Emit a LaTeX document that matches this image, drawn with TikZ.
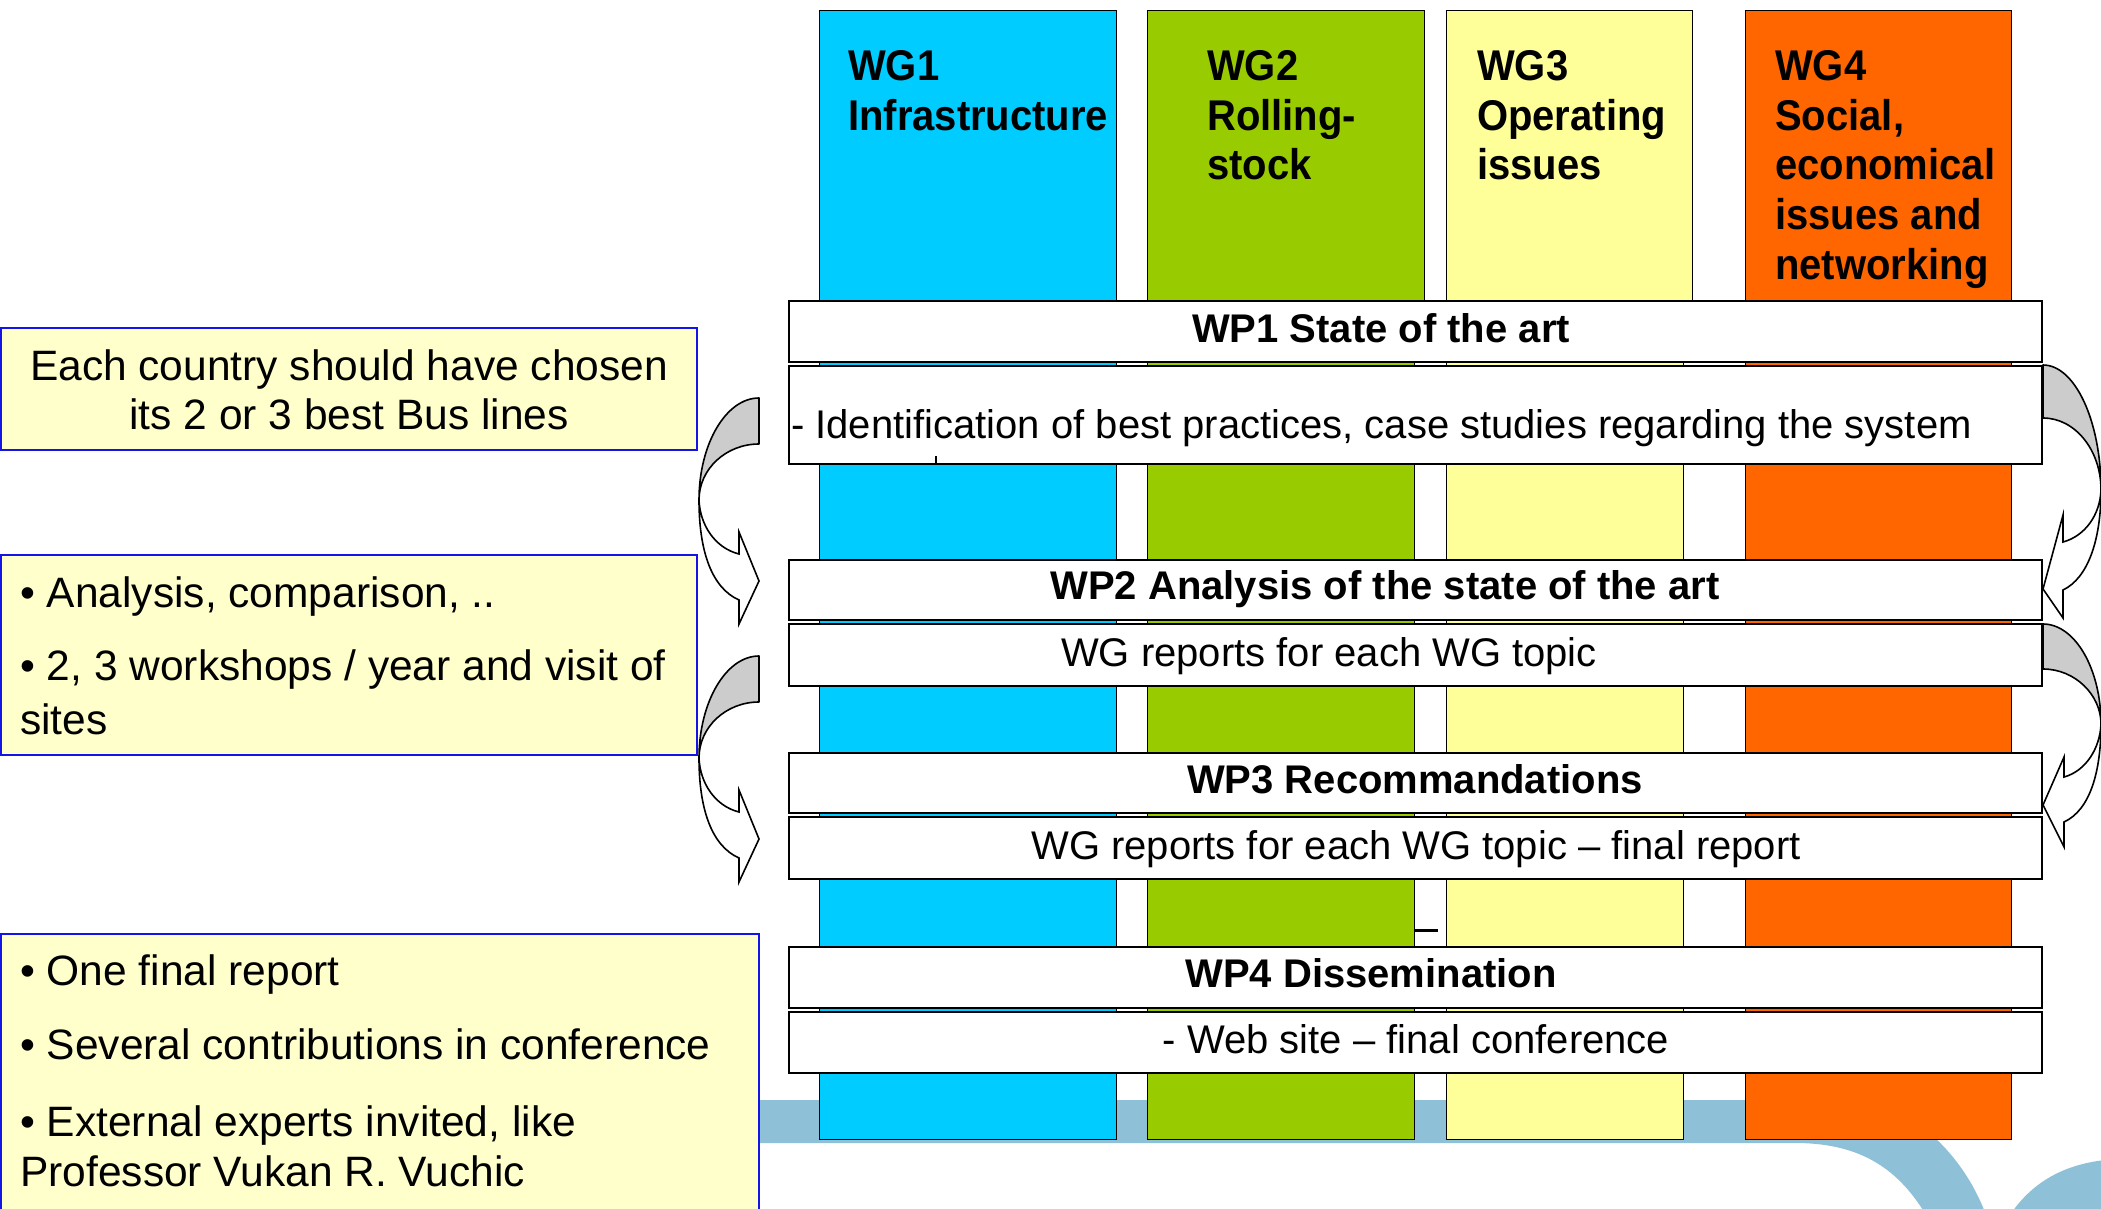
\documentclass[tikz,border=0pt]{standalone}
\usepackage{fontspec}
\setmainfont{Liberation Sans}
\newfontfamily\wgfont[FakeStretch=0.93]{Liberation Sans}
\definecolor{wgcyan}{HTML}{00CCFF}
\definecolor{wggreen}{HTML}{99CC00}
\definecolor{wgyellow}{HTML}{FFFF99}
\definecolor{wgorange}{HTML}{FF6600}
\definecolor{boxyellow}{HTML}{FFFFCC}
\definecolor{boxblue}{HTML}{1414E6}
\definecolor{bandblue}{HTML}{8EC1D8}
\definecolor{arrgray}{HTML}{CCCCCC}
\tikzset{
  colbox/.style={draw=black, line width=1pt},
  wpbox/.style={draw=black, fill=white, line width=1.6pt},
  leftbox/.style={draw=boxblue, fill=boxyellow, line width=2.5pt},
  backarr/.style={draw=black, fill=arrgray, line width=1.6pt, line join=round},
  frontarr/.style={draw=black, fill=white, line width=1.6pt, line join=miter},
  wglabel/.style={anchor=base west, inner sep=0pt, font=\wgfont\bfseries\fontsize{43}{49.5}\selectfont},
  wphead/.style={anchor=base, inner sep=0pt, font=\bfseries\fontsize{40}{46}\selectfont},
  wpbody/.style={anchor=base, inner sep=0pt, font=\fontsize{40}{46}\selectfont},
  lefttext/.style={anchor=base west, inner sep=0pt, font=\fontsize{42.5}{50}\selectfont},
  lefttextc/.style={anchor=base, inner sep=0pt, font=\fontsize{42.5}{50}\selectfont},
}
\begin{document}
\begin{tikzpicture}[x=1pt,y=-1pt]
\useasboundingbox (0,0) rectangle (2101,1209);
\clip (0,0) rectangle (2101,1209);
\fill[white] (0,0) rectangle (2101,1209);

% background band
\fill[bandblue] (700,1100) -- (1850,1100) .. controls (1905,1100) and (1962,1150) .. (1986,1215)
  -- (1926,1215) .. controls (1896,1165) and (1856,1143) .. (1795,1143) -- (700,1143) -- cycle;
\fill[bandblue] (2010,1215) .. controls (2030,1185) and (2060,1165) .. (2105,1160) -- (2105,1215) -- cycle;

% working group columns
\path[colbox, fill=wgcyan] (819,11) rectangle (1116,1139);
\path[colbox, fill=wggreen] (1147,11) -- (1424,11) -- (1424,301) -- (1414,301) -- (1414,1139) -- (1147,1139) -- cycle;
\path[colbox, fill=wgyellow] (1446,11) -- (1692,11) -- (1692,301) -- (1683,301) -- (1683,1139) -- (1446,1139) -- cycle;
\path[colbox, fill=wgorange] (1745,11) rectangle (2011,1139);

\node[wglabel] (wg1a) at (848,81) {WG1};
\node[wglabel] (wg1b) at (848,130.5) {Infrastructure};
\node[wglabel] (wg2a) at (1207,81) {WG2};
\node[wglabel] (wg2b) at (1207,130.5) {Rolling-};
\node[wglabel] (wg2c) at (1207,180) {stock};
\node[wglabel] (wg3a) at (1477,81) {WG3};
\node[wglabel] (wg3b) at (1477,130.5) {Operating};
\node[wglabel] (wg3c) at (1477,180) {issues};
\node[wglabel] (wg4a) at (1775,81) {WG4};
\node[wglabel] (wg4b) at (1775,130.5) {Social,};
\node[wglabel] (wg4c) at (1775,180) {economical};
\node[wglabel] (wg4d) at (1775,229.5) {issues and};
\node[wglabel] (wg4e) at (1775,279) {networking};

\draw[line width=3pt] (1415,930) -- (1438,930);

% work package rows
\path[wpbox] (789,301) rectangle (2042,362);
\path[wpbox] (789,366) rectangle (2042,464);
\path[wpbox] (789,560) rectangle (2042,620);
\path[wpbox] (789,624) rectangle (2042,686);
\path[wpbox] (789,753) rectangle (2042,813);
\path[wpbox] (789,817) rectangle (2042,879);
\path[wpbox] (789,947) rectangle (2042,1008);
\path[wpbox] (789,1012) rectangle (2042,1073);
\draw[line width=2pt] (936,456) -- (936,464);

\node[wphead] (wp1) at (1381,342) {WP1 State of the art};
\node[wpbody, anchor=base west] (wp1b) at (791,438) {- Identification of best practices, case studies regarding the system};
\node[wphead] (wp2) at (1385,599) {WP2 Analysis of the state of the art};
\node[wpbody] (wp2b) at (1329,666) {WG reports for each WG topic};
\node[wphead] (wp3) at (1415,793) {WP3 Recommandations};
\node[wpbody] (wp3b) at (1416,859) {WG reports for each WG topic -- final report};
\node[wphead] (wp4) at (1371,987) {WP4 Dissemination};
\node[wpbody] (wp4b) at (1416,1053) {- Web site -- final conference};

% curved arrows, left side
\foreach \dy in {0,258} {
\begin{scope}[shift={(0,\dy)}]
\path[backarr] (759,398) .. controls (726,398) and (699,444) .. (699,500)
  .. controls (699,469) and (726,444) .. (759,444) -- cycle;
\path[frontarr] (699,500) .. controls (700,525) and (715,548) .. (739,554) -- (739,532) -- (759,581)
  -- (739,624) -- (739,600) .. controls (712,588) and (699,552) .. (699,500) -- cycle;
\end{scope}
}
% curved arrows, right side
\path[backarr] (2043,365) .. controls (2075,365) and (2101,421) .. (2101,490)
  .. controls (2101,450) and (2075,418) .. (2043,418) -- cycle;
\path[frontarr] (2101,490) .. controls (2100,515) and (2085,536) .. (2063,542) -- (2063,515) -- (2043,589)
  -- (2063,618) -- (2063,590) .. controls (2088,578) and (2101,540) .. (2101,490) -- cycle;
\path[backarr] (2043,624) .. controls (2075,624) and (2101,669) .. (2101,724)
  .. controls (2101,695) and (2075,669) .. (2043,669) -- cycle;
\path[frontarr] (2101,724) .. controls (2100,748) and (2086,771) .. (2064,777) -- (2064,757) -- (2043,805)
  -- (2064,847) -- (2064,822) .. controls (2090,810) and (2101,772) .. (2101,724) -- cycle;

% left boxes
\path[leftbox] (1,328) rectangle (697,450);
\node[lefttextc] (t1a) at (349,380) {Each country should have chosen};
\node[lefttextc] (t1b) at (349,429) {its 2 or 3 best Bus lines};

\path[leftbox] (1,555) rectangle (697,755);
\node[lefttext] (t2a) at (20,607) {• Analysis, comparison, ..};
\node[lefttext] (t2b) at (20,680) {• 2, 3 workshops / year and visit of};
\node[lefttext] (t2c) at (20,734) {sites};

\path[leftbox] (1,934) rectangle (759,1230);
\node[lefttext] (t3a) at (20,985) {• One final report};
\node[lefttext] (t3b) at (20,1059) {• Several contributions in conference};
\node[lefttext] (t3c) at (20,1136) {• External experts invited, like};
\node[lefttext] (t3d) at (20,1186) {Professor Vukan R. Vuchic};
\end{tikzpicture}
\end{document}
